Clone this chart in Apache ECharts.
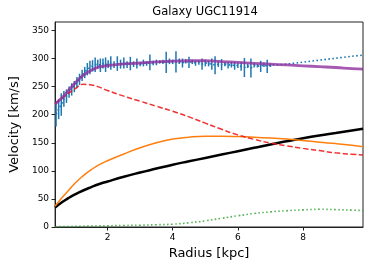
<!DOCTYPE html>
<html><head><meta charset="utf-8">
<script src="https://cdn.jsdelivr.net/npm/echarts@6/dist/echarts.min.js"></script>
<style>html,body{margin:0;padding:0;background:#fff}#c{width:374px;height:266px}</style>
</head><body><div id="c"></div><script>
// Model curves sampled on a radius grid (kpc)
const modelR = [0.39,0.6,0.8,1.0,1.25,1.5,1.75,2.0,2.5,3.0,3.5,4.0,4.5,5.0,5.5,6.0,6.5,7.0,7.5,8.0,8.5,9.0,9.5,9.84];
const totalV = [219,230,243,256,270,279,285,287.5,290.5,292,294,295.5,296,296,294.5,293,291.5,290,288.5,287,285.5,284,282,281];
const bulgeV = [220,229,238,246,254,253,249,243,233,224,215,206,196,185,174,164,156,149.5,144.5,140,136,132,129.5,128];
const diskV  = [37,52,65,78,91,102,111,118,130,141,150,156.5,160,161.5,161.5,161,160,158.5,156.5,154,151,148.5,145.5,143];
const haloV  = [34.6,44,51.5,58,65,71,76.5,81,89.5,97,104,111,117,123,129,135,141,147,152.5,158,163,167.5,172,175];
const gasV   = [0.5,0.7,0.9,1.1,1.4,1.7,1.9,2.2,2.7,3.2,4,5,7.5,11,15.5,20,24,27,29,30.5,31.5,31,30,29.5];
// Observed rotation curve
const obsR = [0.42,0.5,0.58,0.66,0.74,0.82,0.9,0.98,1.06,1.14,1.22,1.3,1.38,1.46,1.54,1.62,1.7,1.78,1.86,1.94,2.02,2.1,2.2,2.3,2.4,2.5,2.6,2.7,2.8,2.9,3.0,3.1,3.2,3.3,3.4,3.5,3.6,3.7,3.8,3.9,4.0,4.1,4.2,4.3,4.4,4.5,4.6,4.7,4.8,4.9,5.0,5.1,5.2,5.3,5.4,5.5,5.6,5.7,5.8,5.9,6.0,6.1,6.2,6.3,6.4,6.5,6.6,6.7,6.8,6.9,7.0,7.5,8.0,8.5,9.0,9.5,9.84];
const obsV = [201,210,218,228,233,240,245,250,257,263,270,275,281,284,287,289,290,288,291,289,290,292,289,291,290,292,289,291,290,291,290,292,291,293,292,293,294,294,293,295,294,294,295,292,295,293,294,292,293,290,292,291,290,288,290,289,290,288,289,287,288,286,284,287,283,288,287,286,289,286,288,290,293.5,297,300.5,304,306];
const obsErr = [22,18,20,14,12,10,11,10,10,10,10,10,11,12,10,13,8,12,9,13,7,12,6,13,8,10,6,12,5,9,4,6,4,14,4,5,3,4,19,5,4,19,5,8,4,10,4,5,4,10,6,5,10,16,5,10,4,6,5,7,5,8,17,4,17,4,3,10,4,12,3,0,0,0,0,0,0];
const xTicks = [2,4,6,8];
const yTicks = [0,50,100,150,200,250,300,350];

const pair = (xs, ys) => xs.map((x,i)=>[x, ys[i]]);
const errData = obsR.map((r,i)=>[r, obsV[i], obsErr[i]]).filter(d=>d[2]>0);
const font = 'DejaVu Sans';
const curve = (data, z, ls) => ({type:'line', data, showSymbol:false, smooth:true, z, lineStyle:ls});

const chart = echarts.init(document.getElementById('c'), null, {renderer:'canvas'});
chart.setOption({
  animation:false,
  backgroundColor:'#fff',
  graphic:[{type:'text', x:205, y:12, style:{text:'Galaxy UGC11914', font:'11.5px "DejaVu Sans"', fill:'#000', textAlign:'center', textVerticalAlign:'middle'}}],
  grid:{left:48, right:11, top:22, bottom:39, show:true, borderColor:'#222', borderWidth:1, backgroundColor:'transparent'},
  xAxis:{type:'value', min:0.39, max:9.84, name:'Radius [kpc]', nameLocation:'middle', nameGap:18,
    nameTextStyle:{fontFamily:font, fontSize:13, color:'#000'},
    axisLine:{show:true, lineStyle:{color:'#222', width:1}},
    axisTick:{show:true, length:3.5, lineStyle:{color:'#222'}, customValues:xTicks},
    axisLabel:{fontFamily:font, fontSize:9, color:'#000', margin:6, customValues:xTicks},
    splitLine:{show:false}},
  yAxis:{type:'value', min:0, max:365, name:'Velocity [km/s]', nameLocation:'middle', nameGap:28,
    nameTextStyle:{fontFamily:font, fontSize:13, color:'#000'},
    axisLine:{show:true, lineStyle:{color:'#222', width:1}},
    axisTick:{show:true, length:3.5, lineStyle:{color:'#222'}, customValues:yTicks},
    axisLabel:{fontFamily:font, fontSize:9, color:'#000', margin:6, customValues:yTicks},
    splitLine:{show:false}},
  series:[
    {type:'custom', clip:true, data:errData, z:2,
      renderItem:(params, api)=>{
        const x = api.value(0), v = api.value(1), e = api.value(2);
        const p1 = api.coord([x, v-e]), p2 = api.coord([x, v+e]);
        return {type:'line', shape:{x1:p1[0], y1:p1[1], x2:p2[0], y2:p2[1]}, style:{stroke:'#1f77b4', lineWidth:1.5}};
      }},
    {type:'line', data:pair(obsR, obsV), showSymbol:false, z:3, lineStyle:{color:'#1f77b4', width:1.6, type:[1.6,2.4]}},
    curve(pair(modelR, gasV), 3, {color:'#2ca02c', width:1.6, type:[1.6,2.4], opacity:0.8}),
    curve(pair(modelR, haloV), 4, {color:'#000', width:2.5}),
    curve(pair(modelR, diskV), 4, {color:'#ff7f0e', width:1.5}),
    curve(pair(modelR, bulgeV), 4, {color:'#ee1c1c', width:1.5, type:[5.5,2.5], opacity:0.9}),
    curve(pair(modelR, totalV), 5, {color:'#8e2f9e', width:2.8, opacity:0.8})
  ]
});
</script></body></html>
